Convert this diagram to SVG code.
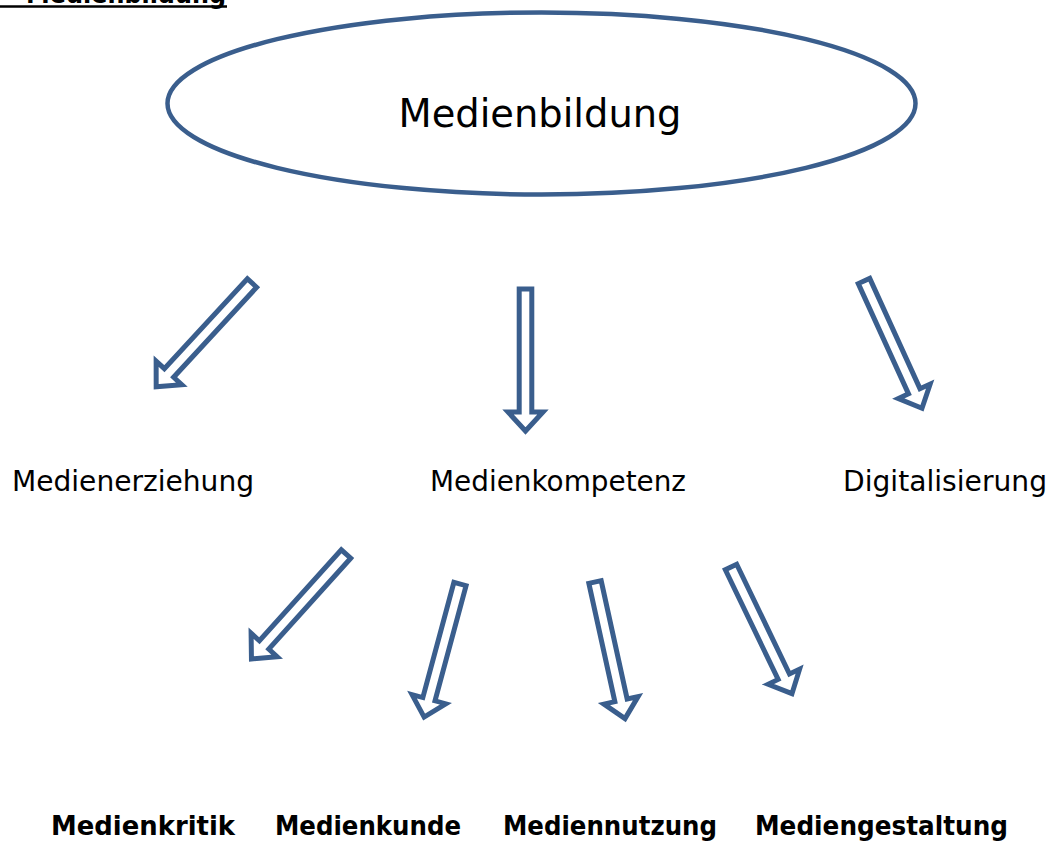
<svg xmlns="http://www.w3.org/2000/svg" width="1053" height="843" viewBox="0 0 1053 843">
<style>
.arr{fill:#fff;stroke:#3A5E8D;stroke-width:5;stroke-linejoin:miter}
.lbl{font-family:"DejaVu Sans","Liberation Sans",sans-serif;font-size:28px;fill:#000}
.bold{font-weight:bold;font-size:27px}
.big{font-size:39px}
.ttl{font-size:26px}
</style>
<defs>
<polygon id="ba" points="0,-6.3 123,-6.3 123,-17.5 142,0 123,17.5 123,6.3 0,6.3"/>
</defs>
<rect width="1053" height="843" fill="#fff"/>
<g id="title">
<text class="lbl bold ttl" x="226" y="3" text-anchor="end" textLength="200" lengthAdjust="spacingAndGlyphs">Medienbildung</text>
<line x1="0" y1="6.5" x2="227" y2="6.5" stroke="#000" stroke-width="2.5"/>
</g>
<g id="medienbildung">
<ellipse cx="541.5" cy="103.5" rx="374" ry="91" fill="#fff" stroke="#3A5E8D" stroke-width="4.5"/>
<text class="lbl big" x="540" y="127" text-anchor="middle" textLength="283" lengthAdjust="spacingAndGlyphs">Medienbildung</text>
</g>
<g id="connectors">
<use href="#ba" class="arr" transform="translate(252,283) rotate(132.7) scale(0.995,1)"/>
<use href="#ba" class="arr" transform="translate(525.5,289) rotate(90) scale(1,1)"/>
<use href="#ba" class="arr" transform="translate(864,281) rotate(65.5) scale(0.985,1)"/>
<use href="#ba" class="arr" transform="translate(346,554) rotate(132) scale(0.995,1)"/>
<use href="#ba" class="arr" transform="translate(460,584) rotate(105.1) scale(0.97,1)"/>
<use href="#ba" class="arr" transform="translate(595,582) rotate(77.6) scale(0.985,1)"/>
<use href="#ba" class="arr" transform="translate(731,567) rotate(64.3) scale(0.99,1)"/>
</g>
<g id="medienerziehung"><text class="lbl" x="12" y="491" textLength="242" lengthAdjust="spacingAndGlyphs">Medienerziehung</text></g>
<g id="medienkompetenz"><text class="lbl" x="430" y="491" textLength="256" lengthAdjust="spacingAndGlyphs">Medienkompetenz</text></g>
<g id="digitalisierung"><text class="lbl" x="843" y="491" textLength="204" lengthAdjust="spacingAndGlyphs">Digitalisierung</text></g>
<g id="medienkritik"><text class="lbl bold" x="51" y="835" textLength="184" lengthAdjust="spacingAndGlyphs">Medienkritik</text></g>
<g id="medienkunde"><text class="lbl bold" x="275" y="835" textLength="186" lengthAdjust="spacingAndGlyphs">Medienkunde</text></g>
<g id="mediennutzung"><text class="lbl bold" x="503" y="835" textLength="214" lengthAdjust="spacingAndGlyphs">Mediennutzung</text></g>
<g id="mediengestaltung"><text class="lbl bold" x="755" y="835" textLength="253" lengthAdjust="spacingAndGlyphs">Mediengestaltung</text></g>
</svg>
